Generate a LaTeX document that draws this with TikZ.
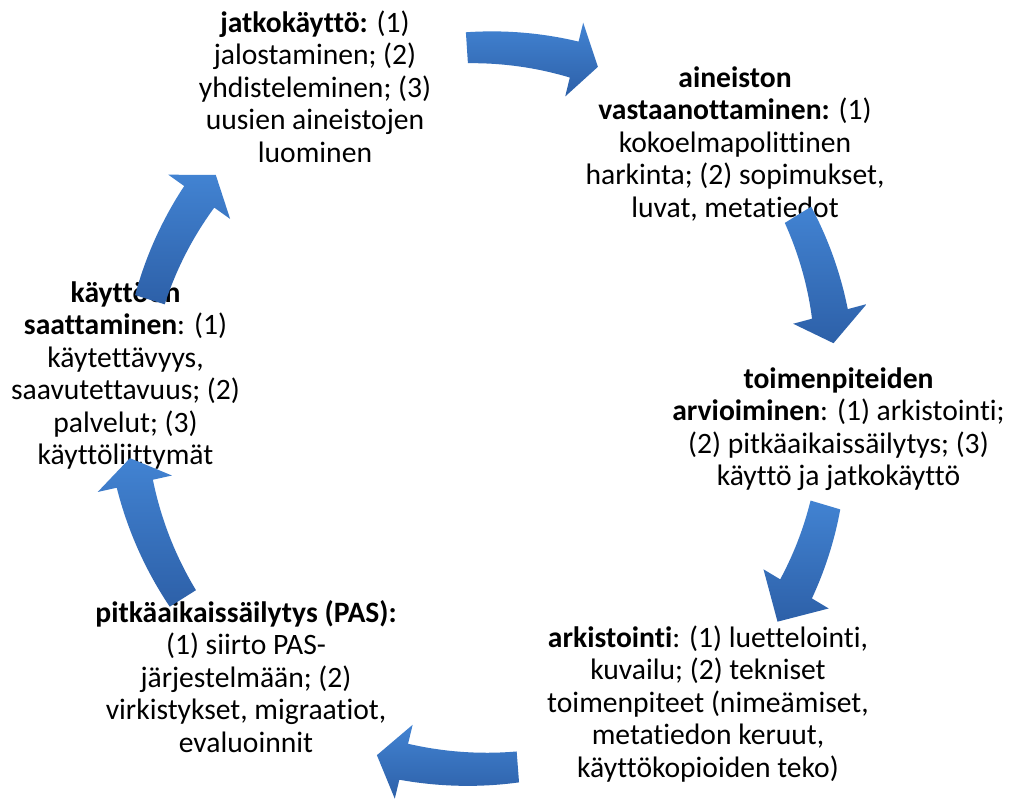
\documentclass[tikz,border=0pt]{standalone}
\usepackage{fontspec}
\setmainfont{Carlito}[Ligatures={NoCommon,NoRequired,NoContextual}]
\definecolor{arrowtop}{RGB}{66,131,210}
\definecolor{arrowbot}{RGB}{45,96,168}
\tikzset{
  lbl/.style={align=center, anchor=north, inner sep=0pt, text=black,
    font=\fontsize{29.6}{32.5}\selectfont},
  cycfill/.style={top color=arrowtop, bottom color=arrowbot, draw=none},
}
\def\cx{490}
\def\cy{393}
% #1 tail angle, #2 head-back angle, #3 tip angle, #4 tail radius, #5 tip radius
\newcommand\cycarrow[5]{%
  \pgfmathsetmacro\rh{#4+(#5-#4)*((#2)-(#1))/((#3)-(#1))}%
  \path[cycfill]
    plot[domain=#1:#2, samples=30, variable=\t]
      ({\cx+(#4+(#5-#4)*(\t-(#1))/((#3)-(#1))+15.5+3*(\t-(#1))/((#2)-(#1)))*cos(\t)},
       {\cy+(#4+(#5-#4)*(\t-(#1))/((#3)-(#1))+15.5+3*(\t-(#1))/((#2)-(#1)))*sin(\t)})
    -- ({\cx+(\rh+38)*cos(#2)},{\cy+(\rh+38)*sin(#2)})
    -- ({\cx+(#5)*cos(#3)},{\cy+(#5)*sin(#3)})
    -- ({\cx+(\rh-38)*cos(#2)},{\cy+(\rh-38)*sin(#2)})
    -- plot[domain=#2:#1, samples=30, variable=\t]
      ({\cx+(#4+(#5-#4)*(\t-(#1))/((#3)-(#1))-15.5-3*(\t-(#1))/((#2)-(#1)))*cos(\t)},
       {\cy+(#4+(#5-#4)*(\t-(#1))/((#3)-(#1))-15.5-3*(\t-(#1))/((#2)-(#1)))*sin(\t)})
    -- cycle;}
\begin{document}
\begin{tikzpicture}[x=1pt,y=1pt]
\useasboundingbox[fill=white] (0,0) rectangle (1014,798);

\node[lbl] (reuse) at (315,790) {\rule{0pt}{24pt}\textbf{jatkokäyttö:} (1)\\jalostaminen; (2)\\yhdisteleminen; (3)\\uusien aineistojen\\luominen};
\node[lbl] (receive) at (735,735) {\rule{0pt}{24pt}\textbf{aineiston}\\\textbf{vastaanottaminen:} (1)\\kokoelmapolittinen\\harkinta; (2) sopimukset,\\luvat, metatiedot};
\node[lbl] (assess) at (838.5,434) {\rule{0pt}{24pt}\textbf{toimenpiteiden}\\\textbf{arvioiminen}: (1) arkistointi;\\(2) pitkäaikaissäilytys; (3)\\käyttö ja jatkokäyttö};
\node[lbl] (archive) at (708,175) {\rule{0pt}{24pt}\textbf{arkistointi}: (1) luettelointi,\\kuvailu; (2) tekniset\\toimenpiteet (nimeämiset,\\metatiedon keruut,\\käyttökopioiden teko)};
\node[lbl] (pas) at (246,200) {\rule{0pt}{24pt}\textbf{pitkäaikaissäilytys (PAS):}\\(1) siirto PAS-\\järjestelmään; (2)\\virkistykset, migraatiot,\\evaluoinnit};
\node[lbl] (access) at (125.5,520) {\rule{0pt}{24pt}\textbf{käyttöön}\\\textbf{saattaminen}: (1)\\käytettävyys,\\saavutettavuus; (2)\\palvelut; (3)\\käyttöliittymät};

\cycarrow{93.7}{76.3}{72.3}{358}{355}
\cycarrow{31.7}{15}{10.2}{362}{349}
\cycarrow{-16.6}{-31}{-37}{350}{360}
\cycarrow{-85.6}{-103.6}{-107.9}{363}{368}
\cycarrow{-147.8}{-167.5}{-171.6}{363}{364}
\cycarrow{162.8}{144.4}{140}{356}{358}
\end{tikzpicture}
\end{document}
